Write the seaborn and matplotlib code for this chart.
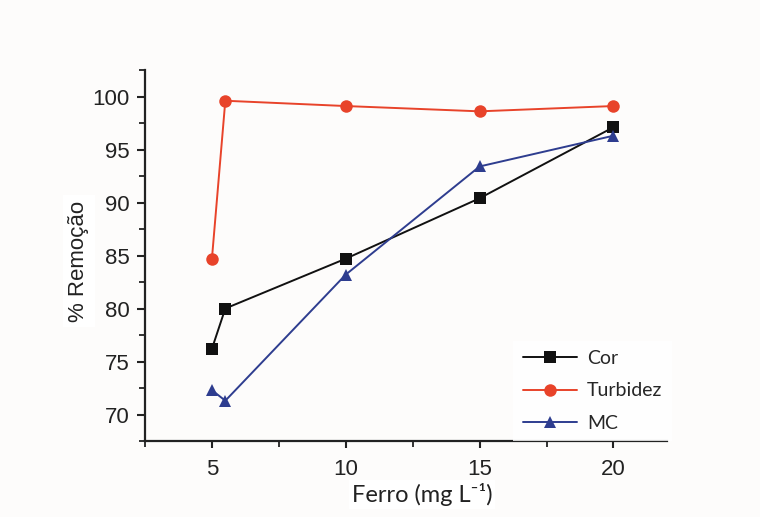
import matplotlib
matplotlib.use("Agg")
import matplotlib.pyplot as plt
from matplotlib.ticker import MultipleLocator
import seaborn as sns
import pandas as pd

# Iron dose (mg/L) and removal efficiencies (%)
ferro = [5, 5.5, 10, 15, 20]
cor = [76.2, 80.0, 84.7, 90.4, 97.1]
turbidez = [84.7, 99.6, 99.1, 98.6, 99.1]
mc = [72.3, 71.3, 83.2, 93.4, 96.3]

series = ["Cor", "Turbidez", "MC"]
values = {"Cor": cor, "Turbidez": turbidez, "MC": mc}

df = pd.DataFrame(
    [(x, y, name) for name in series for x, y in zip(ferro, values[name])],
    columns=["Ferro", "Remocao", "Parametro"],
)

sns.set_style("ticks")
plt.rcParams["font.family"] = ["Liberation Sans", "DejaVu Sans"]

palette = {"Cor": "#111111", "Turbidez": "#e8432a", "MC": "#2e3d8f"}
markers = {"Cor": "s", "Turbidez": "o", "MC": "^"}

fig = plt.figure(figsize=(7.6, 5.17), dpi=100, facecolor="#fdfcfb")
ax = fig.add_axes([0.1908, 0.147, 0.6868, 0.7176])
ax.set_facecolor("#fdfcfb")

sns.lineplot(
    data=df, x="Ferro", y="Remocao", hue="Parametro", style="Parametro",
    hue_order=series, style_order=series, palette=palette, markers=markers,
    dashes=False, linewidth=1.4, markersize=9, markeredgewidth=0,
    sort=False, ax=ax,
)

ax.set_xlim(2.5, 22)
ax.set_ylim(67.5, 102.5)
ax.xaxis.set_major_locator(MultipleLocator(5))
ax.xaxis.set_minor_locator(MultipleLocator(2.5))
ax.yaxis.set_major_locator(MultipleLocator(5))
ax.yaxis.set_minor_locator(MultipleLocator(2.5))
ax.set_xticks([5, 10, 15, 20])

sns.despine(ax=ax)
for side in ("left", "bottom"):
    ax.spines[side].set_linewidth(1.6)
    ax.spines[side].set_color("#222222")

ax.tick_params(axis="both", which="major", direction="out", length=6, width=1.5,
               labelsize=16, colors="#222222", pad=5)
ax.tick_params(axis="both", which="minor", direction="out", length=4, width=1.3,
               colors="#222222")
ax.tick_params(axis="x", which="major", length=5, pad=8)

ax.set_xlabel("Ferro (mg L\u207b\u00b9)", fontsize=17, family=["Lato", "DejaVu Sans"],
              color="#222222",
              bbox=dict(facecolor="white", edgecolor="none", pad=2))
ax.xaxis.set_label_coords(0.531, -0.113)
ax.set_ylabel("% Remoção", fontsize=16, color="#222222",
              bbox=dict(facecolor="white", edgecolor="none", pad=4))
ax.yaxis.set_label_coords(-0.107, 0.485)

handles, labels = ax.get_legend_handles_labels()
leg = ax.legend(
    handles, labels, loc="lower left", bbox_to_anchor=(0.687, -0.027),
    frameon=True, facecolor="white", edgecolor="none", fancybox=False,
    prop={"family": ["Lato", "DejaVu Sans"], "size": 14},
    handlelength=2.8, handletextpad=0.5, labelspacing=0.78, borderpad=0.5,
)

fig.savefig("out.png", dpi=100, facecolor=fig.get_facecolor())
